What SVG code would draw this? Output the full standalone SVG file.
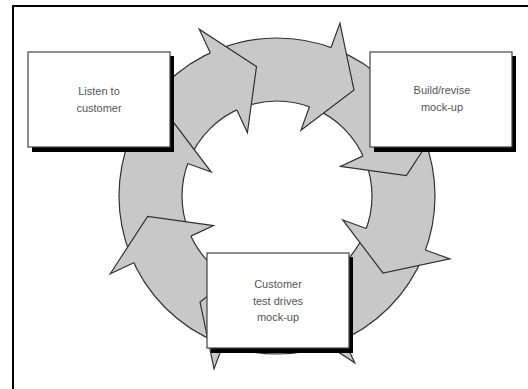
<svg xmlns="http://www.w3.org/2000/svg" xmlns:xlink="http://www.w3.org/1999/xlink" width="528" height="389" viewBox="0 0 528 389">
  <style>
    .frame { stroke: #000; stroke-width: 2; fill: none; }
    .ring { fill: #c8c8c8; stroke: #333; stroke-width: 1.2; fill-rule: evenodd; }
    .head { fill: #c8c8c8; stroke: #333; stroke-width: 1.2; stroke-linejoin: miter; }
    .shadow { fill: #000; }
    .box { fill: #fff; stroke: #444; stroke-width: 1.2; }
    .label { font-family: "Liberation Sans", Arial, sans-serif; font-size: 11px; fill: #555; text-anchor: middle; }
  </style>
  <defs>
    <path id="head" class="head" d="M277,38 L277,12 L313.1,70.1 L277,126 L277,101"/>
  </defs>
  <rect x="0" y="0" width="528" height="389" fill="#fff"/>
  <path class="frame" d="M13,389 L13,6 L528,6"/>

  <g id="connectors">
    <path class="ring" d="M435,196 A158,158 0 1,1 119,196 A158,158 0 1,1 435,196 Z M372,196 A95,95 0 1,0 182,196 A95,95 0 1,0 372,196 Z"/>
    <use xlink:href="#head" href="#head" transform="rotate(-25 277 196)"/>
    <use xlink:href="#head" href="#head" transform="rotate(20 277 196)"/>
    <use xlink:href="#head" href="#head" transform="rotate(65 277 196)"/>
    <use xlink:href="#head" href="#head" transform="rotate(110 277 196)"/>
    <use xlink:href="#head" href="#head" transform="rotate(155 277 196)"/>
    <use xlink:href="#head" href="#head" transform="rotate(200 277 196)"/>
    <use xlink:href="#head" href="#head" transform="rotate(245 277 196)"/>
    <use xlink:href="#head" href="#head" transform="rotate(290 277 196)"/>
  </g>

  <g id="listen">
    <rect class="shadow" x="32" y="56" width="142" height="96"/>
    <rect class="box" x="28" y="52" width="142" height="95"/>
    <text class="label" x="99" y="95">Listen to</text>
    <text class="label" x="99" y="112">customer</text>
  </g>

  <g id="build">
    <rect class="shadow" x="374" y="56" width="142" height="96"/>
    <rect class="box" x="370" y="52" width="142" height="95"/>
    <text class="label" x="442" y="94">Build/revise</text>
    <text class="label" x="442" y="111">mock-up</text>
  </g>

  <g id="test">
    <rect class="shadow" x="211" y="257" width="142" height="96"/>
    <rect class="box" x="207" y="253" width="142" height="95"/>
    <text class="label" x="278" y="288">Customer</text>
    <text class="label" x="278" y="304.5">test drives</text>
    <text class="label" x="278" y="321">mock-up</text>
  </g>
</svg>
